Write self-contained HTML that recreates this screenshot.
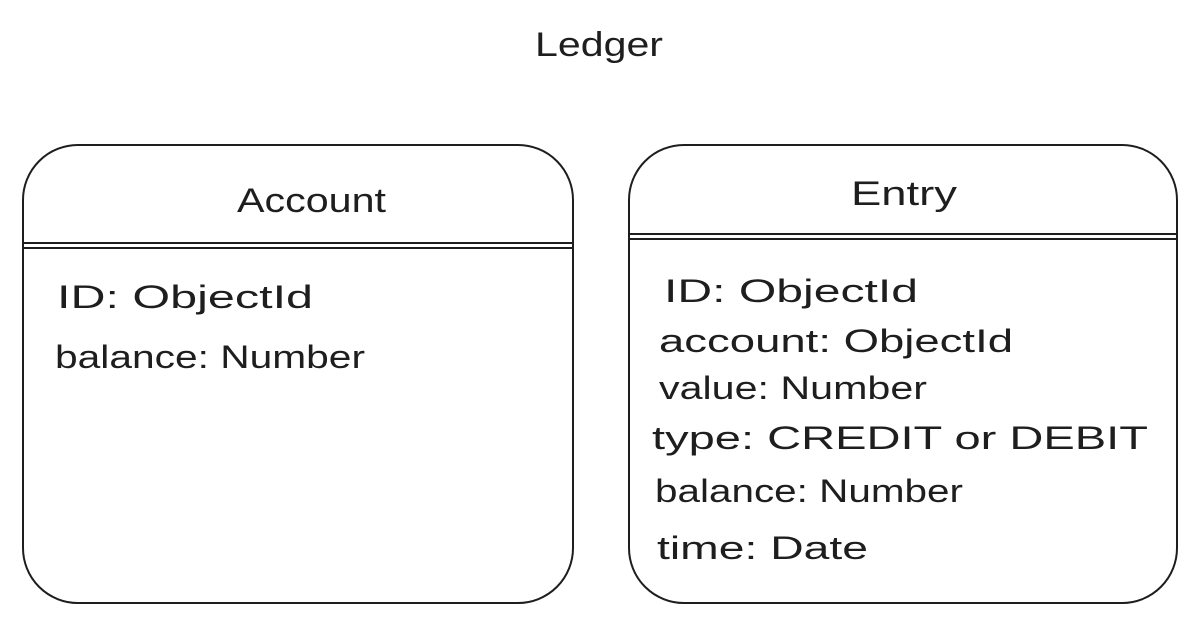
<!DOCTYPE html>
<html><head><meta charset="utf-8"><style>
html,body{margin:0;padding:0;background:#fff;}
svg{display:block;}
text{font-family:"Liberation Sans",sans-serif;fill:#1e1e1e;}
</style></head><body>
<svg width="1197" height="623" viewBox="0 0 1197 623" xmlns="http://www.w3.org/2000/svg">
<rect width="1197" height="623" fill="#fff"/>
<text x="535" y="56" font-size="34" textLength="128" lengthAdjust="spacingAndGlyphs">Ledger</text>
<g fill="none" stroke="#1e1e1e" stroke-width="2">
<rect x="23" y="145" width="550" height="458" rx="55" ry="55"/>
<line x1="22" y1="243" x2="574" y2="243"/>
<line x1="22" y1="248" x2="574" y2="248"/>
<rect x="629" y="145" width="548" height="458" rx="55" ry="55"/>
<line x1="628" y1="234" x2="1178" y2="234"/>
<line x1="628" y1="239" x2="1178" y2="239"/>
</g>
<text x="237" y="212" font-size="34" textLength="149" lengthAdjust="spacingAndGlyphs">Account</text>
<text x="57" y="308" font-size="32" textLength="256" lengthAdjust="spacingAndGlyphs">ID: ObjectId</text>
<text x="55" y="368" font-size="32" textLength="310" lengthAdjust="spacingAndGlyphs">balance: Number</text>
<text x="851" y="205" font-size="34" textLength="106" lengthAdjust="spacingAndGlyphs">Entry</text>
<g font-size="32">
<text x="664" y="302" textLength="254" lengthAdjust="spacingAndGlyphs">ID: ObjectId</text>
<text x="659" y="352" textLength="354" lengthAdjust="spacingAndGlyphs">account: ObjectId</text>
<text x="659" y="399" textLength="268" lengthAdjust="spacingAndGlyphs">value: Number</text>
<text x="652" y="449" textLength="496" lengthAdjust="spacingAndGlyphs">type: CREDIT or DEBIT</text>
<text x="655" y="502" textLength="308" lengthAdjust="spacingAndGlyphs">balance: Number</text>
<text x="657" y="559" textLength="211" lengthAdjust="spacingAndGlyphs">time: Date</text>
</g>
</svg>
</body></html>
